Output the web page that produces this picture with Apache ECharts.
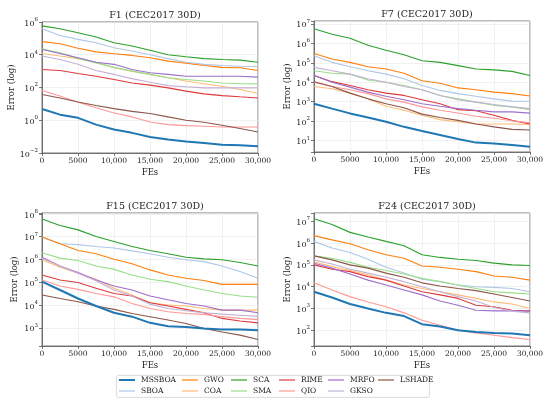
<!DOCTYPE html>
<html><head><meta charset="utf-8">
<script src="https://cdn.jsdelivr.net/npm/echarts@6/dist/echarts.min.js"></script>
<style>html,body{margin:0;padding:0;background:#fff}#c{width:550px;height:402px}</style>
</head><body><div id="c"></div>
<script>
// ---------- data ----------
const FEs = [0, 2500, 5000, 7500, 10000, 12500, 15000, 17500, 20000, 22500, 25000, 27500, 30000];
const algorithms = ['MSSBOA','SBOA','GWO','COA','SCA','SMA','RIME','QIO','MRFO','GKSO','LSHADE'];
const panelTitles = ['F1 (CEC2017 30D)', 'F7 (CEC2017 30D)', 'F15 (CEC2017 30D)', 'F24 (CEC2017 30D)'];

const F1_MSSBOA = [4.9, 2.2, 1.4, 0.54, 0.27, 0.17, 0.095, 0.066, 0.051, 0.041, 0.032, 0.030, 0.026];
const F1_SBOA = [3.9e5, 1.5e5, 8.7e4, 5.4e4, 2.7e4, 1.7e4, 1.0e4, 5.8e3, 3.5e3, 2.6e3, 2.2e3, 2.0e3, 1.9e3];
const F1_GWO = [6.3e4, 4.7e4, 2.5e4, 1.5e4, 1.15e4, 9.1e3, 6.6e3, 4.1e3, 3.0e3, 2.2e3, 1.7e3, 1.6e3, 1.1e3];
const F1_COA = [1.2e4, 8.3e3, 5.8e3, 3.5e3, 1.6e3, 1.0e3, 630, 390, 250, 170, 120, 76, 43];
const F1_SCA = [5.8e5, 3.9e5, 2.2e5, 1.2e5, 5.4e4, 3.4e4, 1.9e4, 1.0e4, 7.6e3, 5.8e3, 5.1e3, 4.7e3, 3.5e3];
const F1_SMA = [2.3e4, 1.3e4, 6.0e3, 3.2e3, 1.7e3, 1.0e3, 630, 390, 310, 250, 190, 170, 166];
const F1_RIME = [1260, 1100, 720, 490, 310, 190, 140, 95, 60, 41, 32, 27, 23];
const F1_QIO = [66, 30, 12.6, 5.8, 2.8, 1.6, 0.79, 0.54, 0.47, 0.43, 0.39, 0.39, 0.39];
const F1_MRFO = [2.1e4, 1.2e4, 6.6e3, 3.5e3, 2.6e3, 1260, 790, 630, 490, 490, 490, 490, 430];
const F1_GKSO = [8.3e3, 5.1e3, 2.6e3, 1.1e3, 630, 350, 210, 130, 110, 95, 95, 95, 95];
const F1_LSHADE = [37, 23, 13, 7.9, 5.1, 3.5, 2.6, 1.6, 1.0, 0.76, 0.49, 0.31, 0.19];

const F7_MSSBOA = [790, 440, 250, 155, 93, 51, 31, 19.5, 12, 7.9, 7.2, 6.0, 4.9];
const F7_SBOA = [2.3e5, 1.05e5, 6.3e4, 3.9e4, 2.6e4, 1.5e4, 6.8e3, 3.8e3, 2.6e3, 1.9e3, 1.4e3, 1.07e3, 1.05e3];
const F7_GWO = [3.0e5, 1.55e5, 1.05e5, 6.3e4, 4.8e4, 2.9e4, 1.2e4, 8.9e3, 5.1e3, 4.1e3, 3.1e3, 2.6e3, 1.95e3];
const F7_COA = [6.0e3, 4.6e3, 2.75e3, 1.4e3, 580, 360, 200, 120, 93, 71, 71, 71, 68];
const F7_SCA = [5.6e6, 2.9e6, 1.8e6, 7.9e5, 4.4e5, 2.6e5, 1.26e5, 1.05e5, 7.1e4, 4.8e4, 4.3e4, 3.6e4, 2.2e4];
const F7_SMA = [3.9e4, 2.9e4, 2.6e4, 1.3e4, 1.0e4, 6.8e3, 4.1e3, 2.1e3, 1.4e3, 950, 650, 540, 390];
const F7_RIME = [2.2e4, 1.07e4, 6.8e3, 4.1e3, 2.75e3, 2.1e3, 1.26e3, 790, 390, 340, 200, 110, 71];
const F7_QIO = [1.0e4, 6.0e3, 4.1e3, 2.6e3, 1.4e3, 950, 540, 360, 260, 180, 140, 105, 83];
const F7_MRFO = [2.2e4, 1.0e4, 5.6e3, 3.1e3, 1.9e3, 1.26e3, 790, 580, 440, 360, 300, 300, 260];
const F7_GKSO = [5.8e4, 3.9e4, 2.6e4, 1.5e4, 1.0e4, 6.0e3, 4.1e3, 2.1e3, 1.26e3, 950, 720, 540, 440];
const F7_LSHADE = [1.07e4, 6.0e3, 2.75e3, 1.4e3, 790, 490, 230, 155, 110, 71, 51, 38, 35];

const F15_MSSBOA = [1.07e5, 4.6e4, 1.95e4, 9.1e3, 4.6e3, 3.1e3, 1.66e3, 1.17e3, 1.1e3, 930, 850, 850, 790];
const F15_SBOA = [9.8e6, 4.9e6, 4.5e6, 3.7e6, 3.2e6, 2.4e6, 1.8e6, 1.26e6, 9.8e5, 8.1e5, 5.2e5, 3.0e5, 1.5e5];
const F15_GWO = [9.8e6, 4.9e6, 2.5e6, 1.8e6, 1.02e6, 6.5e5, 3.5e5, 2.1e5, 1.5e5, 1.2e5, 8.1e4, 8.1e4, 8.1e4];
const F15_COA = [9.8e5, 4.6e5, 2.5e5, 1.35e5, 5.5e4, 2.75e4, 1.26e4, 1.0e4, 9.1e3, 7.1e3, 6.0e3, 6.0e3, 6.0e3];
const F15_SCA = [6.0e7, 3.1e7, 2.0e7, 1.02e7, 6.2e6, 3.7e6, 2.5e6, 1.8e6, 1.26e6, 1.07e6, 9.8e5, 7.4e5, 5.2e5];
const F15_SMA = [2.0e6, 1.15e6, 9.1e5, 5.2e5, 3.7e5, 2.1e5, 1.35e5, 1.07e5, 6.9e4, 4.6e4, 3.2e4, 2.5e4, 2.2e4];
const F15_RIME = [2.1e5, 1.26e5, 9.8e4, 5.5e4, 3.2e4, 2.5e4, 1.26e4, 9.1e3, 6.5e3, 4.6e3, 2.6e3, 2.0e3, 1.66e3];
const F15_QIO = [1.26e5, 6.9e4, 4.9e4, 3.2e4, 2.3e4, 1.17e4, 7.1e3, 5.1e3, 4.3e3, 3.9e3, 3.1e3, 2.6e3, 2.3e3];
const F15_MRFO = [1.26e6, 5.2e5, 2.7e5, 1.26e5, 6.9e4, 4.6e4, 2.5e4, 1.7e4, 1.17e4, 9.1e3, 6.0e3, 6.0e3, 4.6e3];
const F15_GKSO = [1.15e6, 5.2e5, 2.5e5, 1.17e5, 4.6e4, 2.5e4, 1.1e4, 7.1e3, 5.6e3, 4.6e3, 4.0e3, 3.6e3, 3.2e3];
const F15_LSHADE = [2.75e4, 1.95e4, 1.4e4, 9.1e3, 6.5e3, 4.3e3, 3.1e3, 2.2e3, 1.55e3, 930, 660, 480, 310];

const F24_MSSBOA = [5.9e3, 3.2e3, 1.6e3, 1.0e3, 630, 450, 190, 150, 100, 83, 76, 71, 59];
const F24_SBOA = [1.2e6, 5.9e5, 3.7e5, 1.8e5, 7.8e4, 4.2e4, 2.2e4, 1.7e4, 1.2e4, 1.0e4, 9.3e3, 8.3e3, 5.9e3];
const F24_GWO = [2.2e6, 1.4e6, 9.3e5, 4.9e5, 2.9e5, 2.0e5, 8.9e4, 7.8e4, 6.3e4, 4.9e4, 3.1e4, 2.7e4, 2.0e4];
const F24_COA = [1.4e5, 8.3e4, 5.5e4, 3.5e4, 2.0e4, 1.2e4, 8.3e3, 5.9e3, 4.2e3, 2.9e3, 2.0e3, 1.6e3, 1.0e3];
const F24_SCA = [1.3e7, 7.1e6, 3.1e6, 1.9e6, 1.2e6, 7.6e5, 2.9e5, 2.2e5, 1.8e5, 1.6e5, 1.2e5, 1.0e5, 9.3e4];
const F24_SMA = [2.6e5, 2.0e5, 1.3e5, 7.8e4, 5.5e4, 3.8e4, 2.4e4, 1.7e4, 1.2e4, 8.3e3, 5.9e3, 5.2e3, 4.6e3];
const F24_RIME = [1.0e5, 6.3e4, 4.9e4, 2.9e4, 2.0e4, 1.07e4, 5.9e3, 4.2e3, 2.9e3, 1.4e3, 1.2e3, 830, 780];
const F24_QIO = [1.5e4, 7.1e3, 3.5e3, 2.0e3, 1.2e3, 630, 290, 170, 100, 76, 59, 46, 38];
const F24_MRFO = [1.2e5, 7.1e4, 3.8e4, 2.0e4, 1.2e4, 7.1e3, 4.2e3, 2.2e3, 1.4e3, 830, 780, 780, 760];
const F24_GKSO = [1.7e5, 1.1e5, 6.3e4, 4.2e4, 2.7e4, 1.7e4, 1.0e4, 5.9e3, 3.5e3, 2.2e3, 1.1e3, 760, 630];
const F24_LSHADE = [2.6e5, 1.7e5, 1.0e5, 7.1e4, 4.2e4, 2.7e4, 1.5e4, 1.07e4, 8.3e3, 6.6e3, 4.6e3, 3.2e3, 2.2e3];

const panels = [
  [F1_MSSBOA, F1_SBOA, F1_GWO, F1_COA, F1_SCA, F1_SMA, F1_RIME, F1_QIO, F1_MRFO, F1_GKSO, F1_LSHADE],
  [F7_MSSBOA, F7_SBOA, F7_GWO, F7_COA, F7_SCA, F7_SMA, F7_RIME, F7_QIO, F7_MRFO, F7_GKSO, F7_LSHADE],
  [F15_MSSBOA, F15_SBOA, F15_GWO, F15_COA, F15_SCA, F15_SMA, F15_RIME, F15_QIO, F15_MRFO, F15_GKSO, F15_LSHADE],
  [F24_MSSBOA, F24_SBOA, F24_GWO, F24_COA, F24_SCA, F24_SMA, F24_RIME, F24_QIO, F24_MRFO, F24_GKSO, F24_LSHADE]
];

// ---------- style ----------
const colors = ['#1f77b4','#aec7e8','#ff7f0e','#ffbb78','#2ca02c','#98df8a','#e03a3c','#ff9896','#9d6fcc','#c5b0d5','#8c564b'];
const FONT = 'DejaVu Serif';
const TXT = '#222';
const grids = [
  {left: 42, top: 22, width: 216, height: 131},
  {left: 314, top: 21, width: 216, height: 131},
  {left: 42, top: 213, width: 216, height: 133},
  {left: 314, top: 213, width: 216, height: 133}
];
const yCfg = [
  {min: 0.01, max: 1e6, interval: 2, nameGap: 25},
  {min: 2.6, max: 1.4e7, nameGap: 22},
  {min: 160, max: 1.1e8, nameGap: 23},
  {min: 19, max: 2.4e7, nameGap: 20}
];
function logLabel(v) {
  const l = Math.log10(v), e = Math.round(l);
  if (Math.abs(l - e) > 1e-6) return '';
  return '{b|10}{s|' + (e < 0 ? '\u2212' + (-e) : e) + '}';
}
function xLabel(v) { return v >= 10000 ? v.toLocaleString('en-US') : String(v); }

const option = {
  animation: false,
  backgroundColor: '#fff',
  textStyle: {fontFamily: FONT},
  title: panelTitles.map((t, i) => ({
    text: t,
    left: grids[i].left + grids[i].width / 2,
    top: grids[i].top - 16,
    textAlign: 'center',
    textStyle: {fontFamily: FONT, fontSize: 9.5, fontWeight: 'normal', color: TXT}
  })),
  grid: grids.map(g => Object.assign({show: true, borderColor: '#555', borderWidth: 0.8, backgroundColor: 'transparent'}, g)),
  xAxis: grids.map((g, i) => ({
    type: 'value', gridIndex: i, min: 0, max: 30000, interval: 5000,
    name: 'FEs', nameLocation: 'middle', nameGap: 15,
    nameTextStyle: {fontFamily: FONT, fontSize: 8.5, color: TXT},
    axisLine: {show: true, lineStyle: {color: '#555', width: 0.8}},
    axisTick: {show: true, length: 3, lineStyle: {color: '#555', width: 0.8}},
    axisLabel: {formatter: xLabel, fontFamily: FONT, fontSize: 7.5, color: TXT, margin: 4},
    splitLine: {show: true, lineStyle: {color: '#ebebeb', width: 0.7}}
  })),
  yAxis: grids.map((g, i) => Object.assign({
    type: 'log', logBase: 10, gridIndex: i,
    name: 'Error (log)', nameLocation: 'middle',
    nameTextStyle: {fontFamily: FONT, fontSize: 8.5, color: TXT},
    axisLine: {show: true, lineStyle: {color: '#555', width: 0.8}},
    axisTick: {show: true, length: 3, lineStyle: {color: '#555', width: 0.8}},
    axisLabel: {
      formatter: logLabel, color: TXT, margin: 4,
      rich: {
        b: {fontFamily: FONT, fontSize: 8, color: TXT, lineHeight: 11, verticalAlign: 'bottom'},
        s: {fontFamily: FONT, fontSize: 5.5, color: TXT, lineHeight: 11, verticalAlign: 'top'}
      }
    },
    splitLine: {show: true, lineStyle: {color: '#ebebeb', width: 0.7}},
    minorTick: {show: false}
  }, yCfg[i])),
  legend: [],
  graphic: [{
    type: 'rect', left: 116, top: 375, z: 0,
    shape: {width: 313, height: 22, r: 2},
    style: {fill: '#fff', stroke: '#d0d0d0', lineWidth: 0.8}
  }],
  series: []
};

panels.forEach((arrs, p) => {
  arrs.forEach((vals, k) => {
    option.series.push({
      type: 'line', name: algorithms[k], xAxisIndex: p, yAxisIndex: p,
      data: FEs.map((x, j) => [x, vals[j]]),
      symbol: 'none', showSymbol: false, smooth: false,
      color: colors[k],
      lineStyle: {color: colors[k], width: k === 0 ? 2 : 1.1},
      z: k === 0 ? 5 : 2
    });
  });
});

// legend laid out in two rows and six columns as in the reference
const colLeft = [119, 182, 231, 279, 328, 378];
const rowTop = [376, 387];
algorithms.forEach((name, k) => {
  const col = Math.floor(k / 2), row = k % 2;
  option.legend.push({
    left: colLeft[col], top: rowTop[row], padding: 0,
    icon: 'rect', itemWidth: 16, itemHeight: k === 0 ? 2 : 1.2,
    data: [name],
    textStyle: {fontFamily: FONT, fontSize: 7.5, color: TXT, padding: [0, 0, 0, 1]},
    selectedMode: false, z: 10
  });
});

const chart = echarts.init(document.getElementById('c'), null, {renderer: 'canvas'});
chart.setOption(option);
</script></body></html>
